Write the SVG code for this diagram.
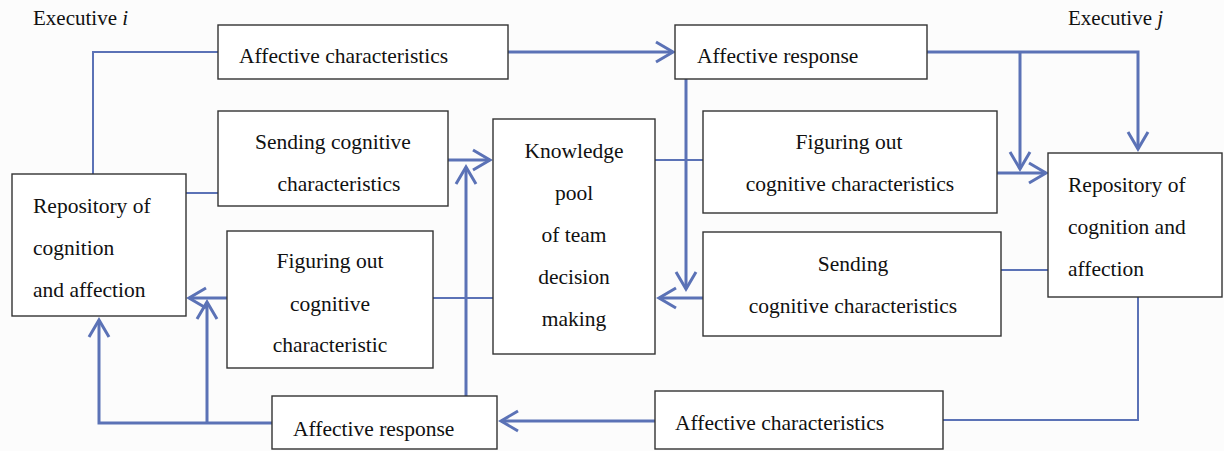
<svg xmlns="http://www.w3.org/2000/svg" width="1224" height="451" viewBox="0 0 1224 451">
<style>
.box{fill:#ffffff;stroke:#333333;stroke-width:1.4}
text{font-family:"Liberation Serif","Times New Roman",serif;font-size:21.5px;fill:#111111}
.c{text-anchor:middle}
.lbl{font-size:21px}
.thick{fill:none;stroke:#5b72b6;stroke-width:3}
.thin{fill:none;stroke:#5b72b6;stroke-width:2}
</style>
<defs>
<marker id="arr" markerUnits="userSpaceOnUse" markerWidth="30" markerHeight="30" viewBox="-20 -15 30 30" refX="0" refY="0" orient="auto">
<path d="M-17,-10 L0,0 L-17,10" fill="none" stroke="#5b72b6" stroke-width="3"/>
</marker>
</defs>
<rect x="0" y="0" width="1224" height="451" fill="#fcfcfc"/>
<text class="lbl" x="33" y="25">Executive <tspan font-style="italic">i</tspan></text>
<text class="lbl" x="1068" y="25">Executive <tspan font-style="italic">j</tspan></text>

<g id="connectors">
<polyline class="thin" points="93,174 93,52 218,52"/>
<line class="thick" x1="508" y1="52" x2="673" y2="52" marker-end="url(#arr)"/>
<polyline class="thick" points="927,52 1138,52 1138,149" marker-end="url(#arr)"/>
<line class="thick" x1="1020" y1="52" x2="1020" y2="169" marker-end="url(#arr)"/>
<line class="thick" x1="997" y1="173" x2="1046" y2="173" marker-end="url(#arr)"/>
<line class="thin" x1="655" y1="160" x2="703" y2="160"/>
<line class="thick" x1="686" y1="79" x2="686" y2="289" marker-end="url(#arr)"/>
<line class="thick" x1="703" y1="298" x2="659" y2="298" marker-end="url(#arr)"/>
<line class="thick" x1="448" y1="160" x2="490" y2="160" marker-end="url(#arr)"/>
<line class="thick" x1="466" y1="396" x2="466" y2="167" marker-end="url(#arr)"/>
<line class="thin" x1="186" y1="193" x2="218" y2="193"/>
<line class="thin" x1="493" y1="298" x2="433" y2="298"/>
<line class="thick" x1="227" y1="298" x2="189" y2="298" marker-end="url(#arr)"/>
<polyline class="thick" points="272,423 99,423 99,320" marker-end="url(#arr)"/>
<line class="thick" x1="207" y1="423" x2="207" y2="302" marker-end="url(#arr)"/>
<line class="thick" x1="655" y1="421" x2="501" y2="421" marker-end="url(#arr)"/>
<polyline class="thin" points="943,420 1138,420 1138,297"/>
<line class="thin" x1="1048" y1="270" x2="1001" y2="270"/>
</g>

<g id="affective-characteristics-i">
<rect class="box" x="218" y="25" width="290" height="54"/>
<text x="239" y="63">Affective characteristics</text>
</g>
<g id="affective-response-j">
<rect class="box" x="675" y="25" width="252" height="54"/>
<text x="697" y="63">Affective response</text>
</g>
<g id="sending-cognitive-i">
<rect class="box" x="218" y="111" width="230" height="95"/>
<text class="c" x="333" y="149">Sending cognitive</text>
<text class="c" x="339" y="191">characteristics</text>
</g>
<g id="repository-i">
<rect class="box" x="12" y="174" width="174" height="142"/>
<text x="33" y="213">Repository of</text>
<text x="33" y="255">cognition</text>
<text x="33" y="297">and affection</text>
</g>
<g id="knowledge-pool">
<rect class="box" x="493" y="119" width="162" height="235"/>
<text class="c" x="574" y="158">Knowledge</text>
<text class="c" x="574" y="200">pool</text>
<text class="c" x="574" y="242">of team</text>
<text class="c" x="574" y="284">decision</text>
<text class="c" x="574" y="326">making</text>
</g>
<g id="figuring-out-j">
<rect class="box" x="703" y="111" width="294" height="102"/>
<text class="c" x="849" y="149">Figuring out</text>
<text class="c" x="850" y="191">cognitive characteristics</text>
</g>
<g id="repository-j">
<rect class="box" x="1048" y="153" width="174" height="144"/>
<text x="1068" y="192">Repository of</text>
<text x="1068" y="234">cognition and</text>
<text x="1068" y="276">affection</text>
</g>
<g id="sending-cognitive-j">
<rect class="box" x="703" y="232" width="298" height="104"/>
<text class="c" x="853" y="271">Sending</text>
<text class="c" x="853" y="313">cognitive characteristics</text>
</g>
<g id="figuring-out-i">
<rect class="box" x="227" y="231" width="206" height="137"/>
<text class="c" x="330" y="268">Figuring out</text>
<text class="c" x="330" y="311">cognitive</text>
<text class="c" x="330" y="352">characteristic</text>
</g>
<g id="affective-response-i">
<rect class="box" x="272" y="396" width="225" height="53"/>
<text x="293" y="436">Affective response</text>
</g>
<g id="affective-characteristics-j">
<rect class="box" x="655" y="391" width="288" height="58"/>
<text x="675" y="430">Affective characteristics</text>
</g>
</svg>
